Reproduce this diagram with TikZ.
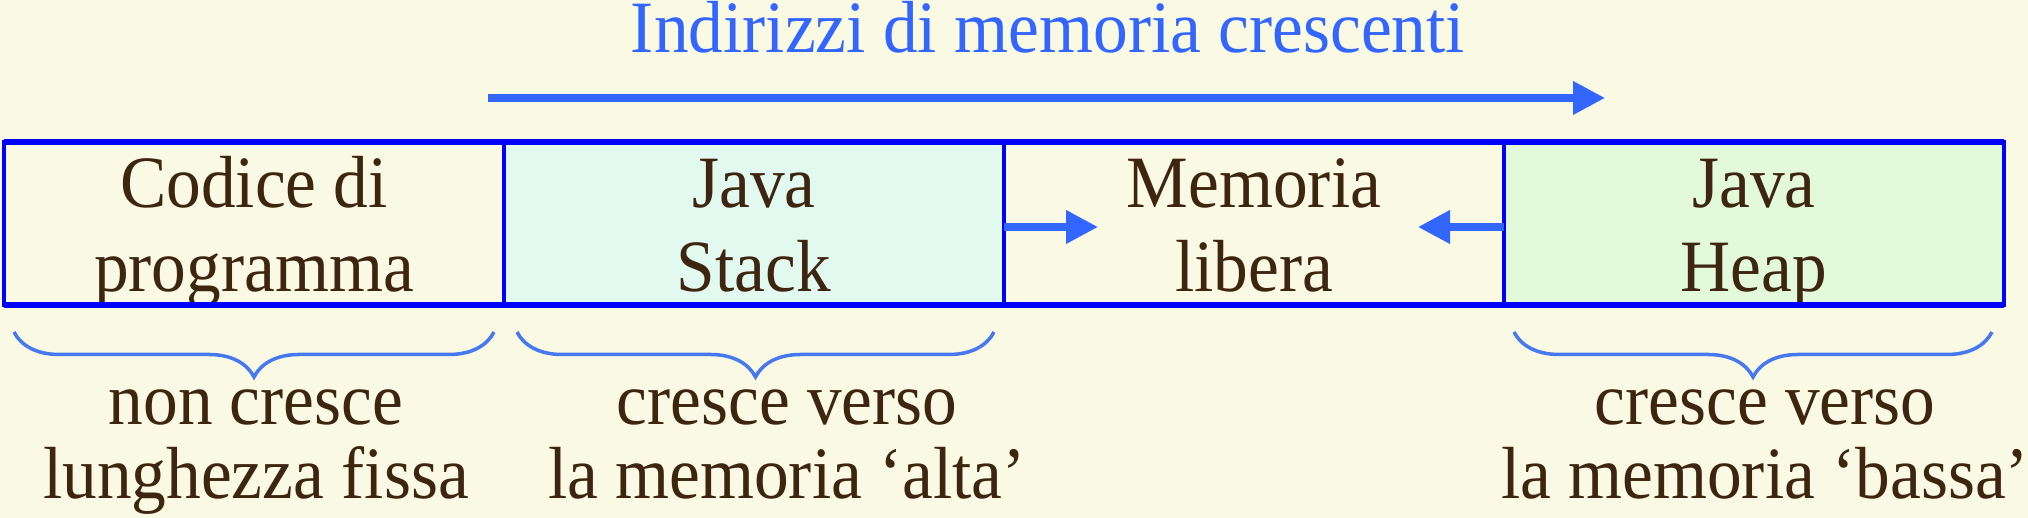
\documentclass[tikz,border=0pt]{standalone}
\usepackage{fontspec}
\setmainfont[FakeStretch=0.94]{Liberation Serif}
\usetikzlibrary{arrows.meta,positioning,decorations.pathreplacing}
\definecolor{paper}{RGB}{250,249,228}
\definecolor{ink}{RGB}{61,37,16}
\definecolor{addrblue}{RGB}{51,102,255}
\definecolor{edgeblue}{RGB}{0,0,255}
\definecolor{stackfill}{RGB}{226,249,240}
\definecolor{heapfill}{RGB}{226,250,218}
\definecolor{bracecol}{RGB}{70,120,240}
\tikzset{
  cell/.style={draw=edgeblue, line width=1.1pt, minimum width=5cm, minimum height=1.63cm,
    inner sep=0pt, outer sep=0pt, align=center, text=ink,
    font=\fontsize{21}{23.9}\selectfont, text height=1.5cm, text depth=0.13cm},
  growarrow/.style={-{Triangle[length=0.32cm,width=0.32cm]}, line width=2pt, addrblue},
  under/.style={decorate, decoration={brace, mirror, amplitude=0.45cm}, bracecol, line width=1pt},
  note/.style={align=center, text=ink, font=\fontsize{21}{21.3}\selectfont},
}
\begin{document}
\begin{tikzpicture}
  % Background
  \fill[paper] (0,0) rectangle (20.28,-5.18);
  \useasboundingbox (0,0) rectangle (20.28,-5.18);
  % Title and address arrow
  \node[anchor=base, text=addrblue, font=\fontsize{21}{24}\selectfont] (title) at (10.48,-0.53)
    {Indirizzi di memoria crescenti};
  \coordinate (lowaddr) at (4.88,-0.98);
  \coordinate (highaddr) at (16.05,-0.98);
  \draw[growarrow] (lowaddr) -- (highaddr);
  % Memory cells
  \node[cell] (code) at (2.54,-2.235) {Codice di\\programma};
  \node[cell, fill=stackfill, right=0pt of code] (stack) {Java\\Stack};
  \node[cell, right=0pt of stack] (free) {Memoria\\libera};
  \node[cell, fill=heapfill, right=0pt of free] (heap) {Java\\Heap};
  \draw[edgeblue, line width=1.9pt] (code.north west) -- (heap.north east);
  \draw[edgeblue, line width=1.9pt] (code.south west) -- (heap.south east);
  % Growth arrows
  \coordinate (stacktop) at (10.98,-2.27);
  \coordinate (heaptop) at (14.18,-2.27);
  \draw[growarrow] (stack.east |- stacktop) -- (stacktop);
  \draw[growarrow] (heap.west |- heaptop) -- (heaptop);
  % Braces
  \draw[under] ([shift={(0.10,-0.27)}]code.south west) -- ([shift={(-0.10,-0.27)}]code.south east);
  \draw[under] ([shift={(0.13,-0.27)}]stack.south west) -- ([shift={(-0.10,-0.27)}]stack.south east);
  \draw[under] ([shift={(0.10,-0.27)}]heap.south west) -- ([shift={(-0.12,-0.27)}]heap.south east);
  % Notes
  \node[note, anchor=base] (codenote) at (2.56,-4.99) {non cresce\\lunghezza fissa};
  \node[note, anchor=base] (stacknote) at (7.87,-4.99) {cresce verso\\la memoria ‘alta’};
  \node[note, anchor=base] (heapnote) at (17.65,-4.99) {cresce verso\\la memoria ‘bassa’};
\end{tikzpicture}
\end{document}
